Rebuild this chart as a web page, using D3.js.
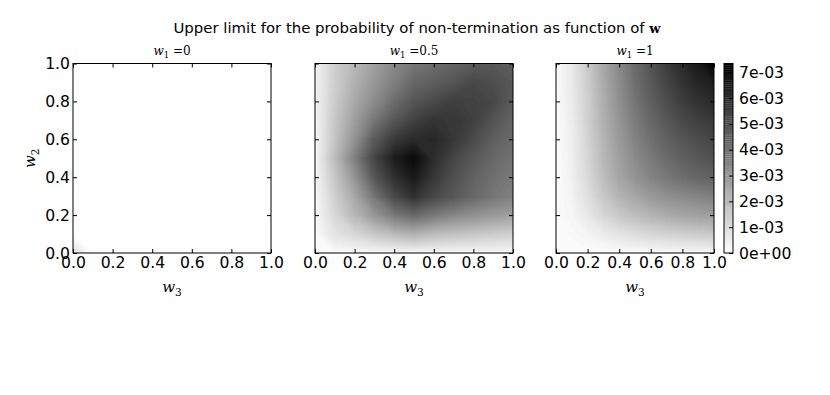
<!DOCTYPE html>
<html>
<head>
<meta charset="utf-8">
<script src="https://cdn.jsdelivr.net/npm/d3@7"></script>
<style>
  html, body { margin: 0; padding: 0; background: #fff; }
  svg { display: block; }
  .tick text { font-family: "DejaVu Sans", sans-serif; font-size: 15.6px; fill: #000; }
  .tick line { stroke: #000; stroke-width: 1; }
</style>
</head>
<body>
<svg id="chart" width="830" height="395"></svg>
<script>
// ---------------- DATA ----------------
// grid positions (same for w3 = x and w2 = y)
const gridW = [0, 0.1, 0.2, 0.3, 0.4, 0.5, 0.6, 0.7, 0.8, 0.9, 1.0];
const panelTitles = ["0", "0.5", "1"];        // w1 values
const axisTicks = [0, 0.2, 0.4, 0.6, 0.8, 1.0];
const axisTickLabels = ["0.0", "0.2", "0.4", "0.6", "0.8", "1.0"];
// colorbar (values in units of 1e-3)
const cbMax = 7.34;
const cbTicks = [0, 1, 2, 3, 4, 5, 6, 7];
const cbTickLabels = ["0e+00", "1e-03", "2e-03", "3e-03", "4e-03", "5e-03", "6e-03", "7e-03"];

// values in units of 1e-3; rows = w2 from 0 to 1, columns = w3 from 0 to 1
const valsW1_0 = [
  [0.90, 0.03, 0.01, 0.01, 0.01, 0.01, 0.01, 0.01, 0.01, 0.01, 0.01],
  [0.03, 0.01, 0.01, 0.01, 0.01, 0.01, 0.01, 0.01, 0.01, 0.01, 0.01],
  [0.01, 0.01, 0.01, 0.01, 0.01, 0.01, 0.01, 0.01, 0.01, 0.01, 0.01],
  [0.01, 0.01, 0.01, 0.01, 0.01, 0.01, 0.01, 0.01, 0.01, 0.01, 0.01],
  [0.01, 0.01, 0.01, 0.01, 0.01, 0.01, 0.01, 0.01, 0.01, 0.01, 0.01],
  [0.01, 0.01, 0.01, 0.01, 0.01, 0.01, 0.01, 0.01, 0.01, 0.01, 0.01],
  [0.01, 0.01, 0.01, 0.01, 0.01, 0.01, 0.01, 0.01, 0.01, 0.01, 0.01],
  [0.01, 0.01, 0.01, 0.01, 0.01, 0.01, 0.01, 0.01, 0.01, 0.01, 0.01],
  [0.01, 0.01, 0.01, 0.01, 0.01, 0.01, 0.01, 0.01, 0.01, 0.01, 0.01],
  [0.01, 0.01, 0.01, 0.01, 0.01, 0.01, 0.01, 0.01, 0.01, 0.01, 0.01],
  [0.01, 0.01, 0.01, 0.01, 0.01, 0.01, 0.01, 0.01, 0.01, 0.01, 0.01]
];
const valsW1_05 = [
  [0.09, 0.14, 0.14, 0.17, 0.20, 0.20, 0.20, 0.20, 0.20, 0.20, 0.20],
  [0.14, 0.78, 1.15, 1.58, 1.93, 2.22, 1.87, 1.73, 1.58, 1.44, 1.30],
  [0.14, 1.12, 2.04, 2.96, 3.83, 4.29, 3.83, 3.43, 3.14, 2.88, 2.68],
  [0.14, 1.35, 2.50, 3.94, 5.21, 5.96, 5.27, 4.81, 4.35, 3.94, 3.66],
  [0.20, 1.58, 3.02, 4.81, 5.96, 6.59, 5.73, 5.04, 4.52, 4.12, 3.83],
  [0.20, 1.87, 3.60, 5.33, 6.48, 7.05, 6.04, 5.33, 4.81, 4.35, 4.03],
  [0.20, 1.64, 3.08, 4.69, 5.67, 6.13, 6.19, 5.76, 5.18, 4.61, 4.23],
  [0.23, 1.58, 2.73, 3.89, 4.81, 5.44, 5.84, 5.76, 5.50, 4.92, 4.46],
  [0.26, 1.44, 2.45, 3.31, 4.17, 4.86, 5.21, 5.53, 5.47, 5.27, 4.69],
  [0.29, 1.38, 2.22, 2.96, 3.66, 4.35, 4.61, 4.89, 5.27, 5.10, 4.81],
  [0.29, 1.35, 2.04, 2.73, 3.37, 3.89, 4.17, 4.46, 4.69, 4.81, 4.69]
];
const valsW1_1 = [
  [0.09, 0.09, 0.09, 0.09, 0.12, 0.12, 0.14, 0.14, 0.17, 0.17, 0.20],
  [0.09, 0.17, 0.32, 0.55, 0.78, 0.95, 1.12, 1.24, 1.35, 1.44, 1.50],
  [0.09, 0.29, 0.66, 1.15, 1.58, 1.87, 2.16, 2.39, 2.56, 2.68, 2.79],
  [0.09, 0.35, 0.89, 1.58, 2.16, 2.56, 2.91, 3.17, 3.37, 3.51, 3.66],
  [0.09, 0.40, 1.07, 1.87, 2.56, 3.08, 3.51, 3.89, 4.17, 4.39, 4.52],
  [0.09, 0.43, 1.15, 2.01, 2.73, 3.31, 3.83, 4.23, 4.58, 4.81, 4.98],
  [0.09, 0.46, 1.21, 2.10, 2.88, 3.54, 4.09, 4.52, 4.86, 5.15, 5.33],
  [0.12, 0.49, 1.30, 2.22, 3.02, 3.74, 4.35, 4.81, 5.21, 5.50, 5.70],
  [0.12, 0.55, 1.35, 2.30, 3.17, 3.94, 4.58, 5.09, 5.56, 5.90, 6.13],
  [0.14, 0.58, 1.41, 2.39, 3.28, 4.12, 4.75, 5.33, 5.84, 6.25, 6.48],
  [0.14, 0.58, 1.44, 2.45, 3.37, 4.23, 4.92, 5.56, 6.13, 6.59, 7.30]
];
const panelValues = [valsW1_0, valsW1_05, valsW1_1];

// ---------------- LAYOUT ----------------
const svg = d3.select("#chart");
const plotTop = 63.5, plotBottom = 253;
const panels = [
  { x0: 73, x1: 271 },
  { x0: 315, x1: 513 },
  { x0: 556, x1: 714 }
];
const cb = { x0: 724, x1: 733 };

const color = d3.scaleLinear().domain([0, cbMax]).range(["#ffffff", "#000000"]).clamp(true);
const nLevels = 100;
const levels = d3.range(nLevels + 1).map(i => i * cbMax / nLevels);
const bandColor = k => color((levels[k] + levels[Math.min(k + 1, nLevels)]) / 2);

// title
const title = svg.append("text")
  .attr("x", 417).attr("y", 33)
  .attr("text-anchor", "middle")
  .style("font-family", "'DejaVu Sans', sans-serif")
  .style("font-size", "14.9px");
title.append("tspan").text("Upper limit for the probability of non-termination as function of ");
title.append("tspan").text("w")
  .style("font-family", "'DejaVu Serif', serif").style("font-weight", "bold").style("font-size", "13px");

const n = gridW.length;
const ys = d3.scaleLinear().domain([0, 1]).range([plotBottom, plotTop]);

panels.forEach((p, idx) => {
  const xs = d3.scaleLinear().domain([0, 1]).range([p.x0, p.x1]);
  const g = svg.append("g");
  const clipId = "clip" + idx;
  svg.append("clipPath").attr("id", clipId)
    .append("rect").attr("x", p.x0).attr("y", plotTop).attr("width", p.x1 - p.x0).attr("height", plotBottom - plotTop);

  const vals = panelValues[idx];
  const flat = [];
  for (let j = 0; j < n; j++) for (let i = 0; i < n; i++) flat.push(vals[j][i]);
  const step = gridW[1] - gridW[0];
  const proj = d3.geoTransform({
    point: function (x, y) {
      this.stream.point(xs(gridW[0] + (x - 0.5) * step), ys(gridW[0] + (y - 0.5) * step));
    }
  });
  const path = d3.geoPath(proj);
  const contours = d3.contours().size([n, n]).thresholds(levels.slice(1, nLevels))(flat);

  const plot = g.append("g").attr("clip-path", `url(#${clipId})`);
  plot.append("rect").attr("x", p.x0).attr("y", plotTop).attr("width", p.x1 - p.x0).attr("height", plotBottom - plotTop)
    .attr("fill", bandColor(0));
  plot.selectAll("path").data(contours).join("path")
    .attr("d", path)
    .attr("fill", (d, k) => bandColor(k + 1))
    .attr("stroke", (d, k) => bandColor(k + 1))
    .attr("stroke-width", 0.4);

  // axes (ticks inward on all sides)
  const ax = d3.axisBottom(xs).tickValues(axisTicks).tickFormat((d, i) => axisTickLabels[i])
    .tickSizeInner(-4).tickSizeOuter(0).tickPadding(3.5);
  g.append("g").attr("transform", `translate(0,${plotBottom})`).call(ax).call(s => s.select(".domain").remove());
  const axT = d3.axisTop(xs).tickValues(axisTicks).tickFormat("").tickSizeInner(-4).tickSizeOuter(0);
  g.append("g").attr("transform", `translate(0,${plotTop})`).call(axT).call(s => s.select(".domain").remove());
  const ay = d3.axisLeft(ys).tickValues(axisTicks)
    .tickFormat((d, i) => idx === 0 ? axisTickLabels[i] : "")
    .tickSizeInner(-4).tickSizeOuter(0).tickPadding(3);
  g.append("g").attr("transform", `translate(${p.x0},0)`).call(ay).call(s => s.select(".domain").remove());
  const ayR = d3.axisRight(ys).tickValues(axisTicks).tickFormat("").tickSizeInner(-4).tickSizeOuter(0);
  g.append("g").attr("transform", `translate(${p.x1},0)`).call(ayR).call(s => s.select(".domain").remove());

  // frame
  g.append("rect").attr("x", p.x0).attr("y", plotTop).attr("width", p.x1 - p.x0).attr("height", plotBottom - plotTop)
    .attr("fill", "none").attr("stroke", "#000").attr("stroke-width", 1);

  // subplot title
  const cx = (p.x0 + p.x1) / 2;
  const st = g.append("text").attr("x", cx).attr("y", 55).attr("text-anchor", "middle")
    .style("font-family", "'DejaVu Serif', serif").style("font-size", "12px");
  st.append("tspan").text("w").style("font-style", "italic");
  st.append("tspan").text("1").attr("dy", 3).style("font-size", "8.5px");
  st.append("tspan").text(" =" + panelTitles[idx]).attr("dy", -3);

  // x label
  const xl = g.append("text").attr("x", cx).attr("y", 292).attr("text-anchor", "middle")
    .style("font-family", "'DejaVu Serif', serif").style("font-size", "15px");
  xl.append("tspan").text("w").style("font-style", "italic");
  xl.append("tspan").text("3").attr("dy", 4).style("font-size", "10.5px");
});

// y label
const yl = svg.append("text").attr("transform", `translate(35,${(plotTop + plotBottom) / 2}) rotate(-90)`)
  .attr("text-anchor", "middle")
  .style("font-family", "'DejaVu Serif', serif").style("font-size", "15px");
yl.append("tspan").text("w").style("font-style", "italic");
yl.append("tspan").text("2").attr("dy", 4).style("font-size", "10.5px");

// colorbar
const cbScale = d3.scaleLinear().domain([0, cbMax]).range([plotBottom, plotTop]);
const cbg = svg.append("g");
cbg.selectAll("rect.band").data(d3.range(nLevels)).join("rect").attr("class", "band")
  .attr("x", cb.x0).attr("width", cb.x1 - cb.x0)
  .attr("y", k => cbScale(levels[k + 1]))
  .attr("height", k => cbScale(levels[k]) - cbScale(levels[k + 1]) + 0.3)
  .attr("fill", k => bandColor(k));
const cbAxis = d3.axisRight(cbScale).tickValues(cbTicks).tickFormat((d, i) => cbTickLabels[i])
  .tickSizeInner(-4).tickSizeOuter(0).tickPadding(6);
cbg.append("g").attr("transform", `translate(${cb.x1},0)`).call(cbAxis).call(s => s.select(".domain").remove());
cbg.append("rect").attr("x", cb.x0).attr("y", plotTop).attr("width", cb.x1 - cb.x0).attr("height", plotBottom - plotTop)
  .attr("fill", "none").attr("stroke", "#000").attr("stroke-width", 1);
</script>
</body>
</html>
